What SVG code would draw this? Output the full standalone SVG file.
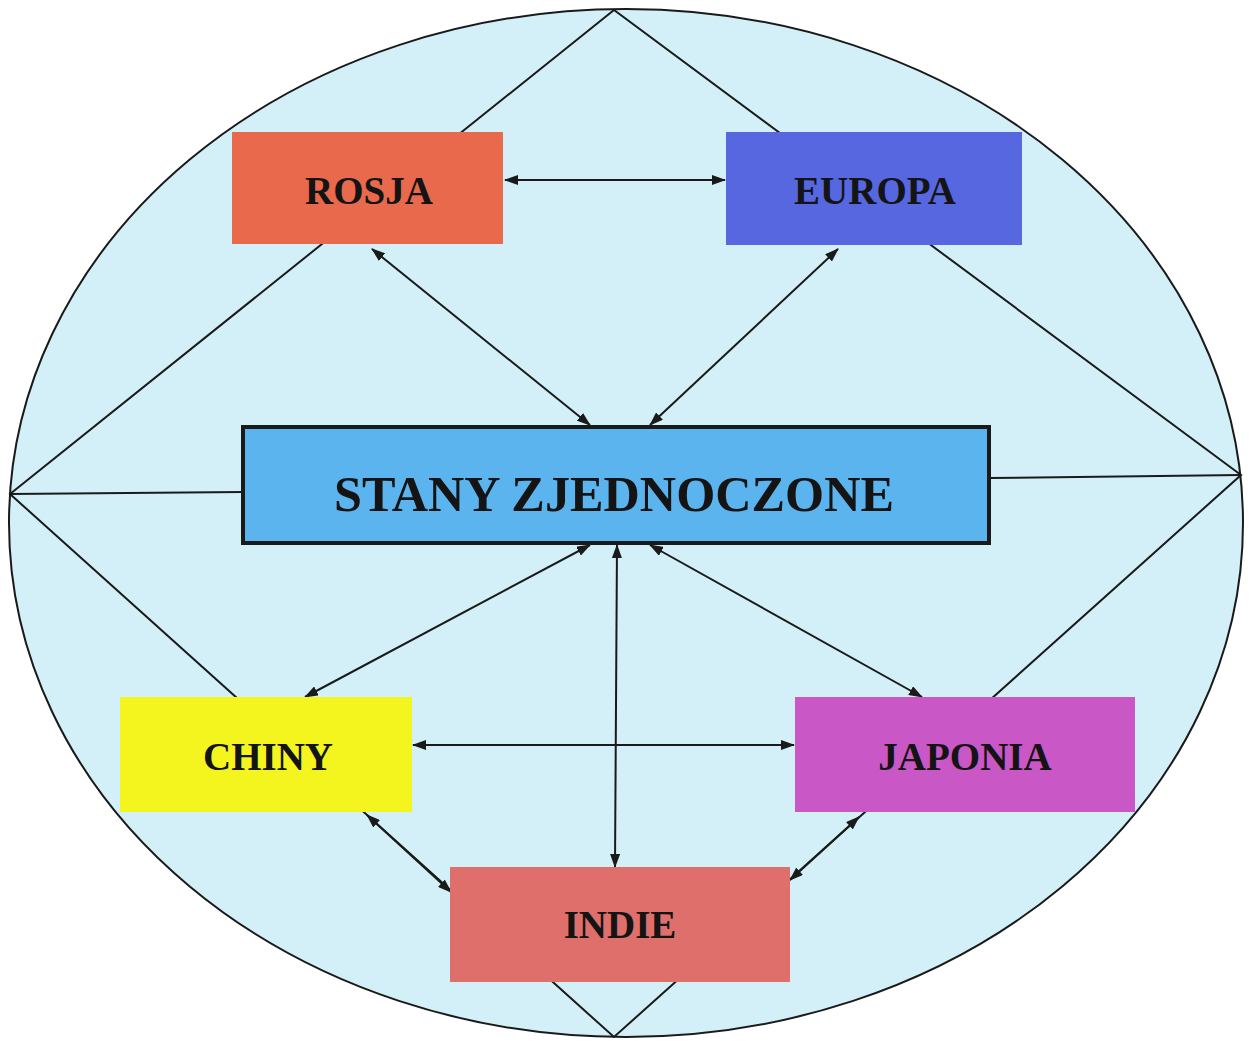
<svg xmlns="http://www.w3.org/2000/svg" width="1254" height="1041" viewBox="0 0 1254 1041">
<defs>
<marker id="ah" viewBox="0 0 14 10" refX="13" refY="5" markerWidth="14" markerHeight="10" markerUnits="userSpaceOnUse" orient="auto-start-reverse">
<path d="M0,0 L14,5 L0,10 Z" fill="#1a1a1a"/>
</marker>
<style>
.frame{fill:none;stroke:#1a1a1a;stroke-width:2}
.conn{fill:none;stroke:#1a1a1a;stroke-width:2;marker-start:url(#ah);marker-end:url(#ah)}
.lbl{font-family:"Liberation Serif","Times New Roman",serif;font-weight:bold;fill:#141414;text-anchor:middle}
.small{font-size:39px}
</style>
</defs>
<rect width="1254" height="1041" fill="#ffffff"/>
<g id="background">
<ellipse cx="626" cy="523" rx="617" ry="514" fill="#d3f0f8" stroke="#1a1a1a" stroke-width="2"/>
<path class="frame" d="M614,10 L10,494 L614,1037 L1241,475 Z"/>
<line class="frame" x1="10" y1="494" x2="243" y2="492"/>
<line class="frame" x1="989" y1="478" x2="1241" y2="475"/>
</g>
<g id="connectors">
<line class="conn" x1="505" y1="180" x2="725" y2="180"/>
<line class="conn" x1="372" y1="249" x2="590" y2="425"/>
<line class="conn" x1="838" y1="249" x2="650" y2="425"/>
<line class="conn" x1="590" y1="545" x2="305" y2="697"/>
<line class="conn" x1="650" y1="545" x2="922" y2="697"/>
<line class="conn" x1="617" y1="545" x2="615" y2="867"/>
<line class="conn" x1="413" y1="745" x2="794" y2="745"/>
<line class="conn" x1="367" y1="815" x2="451" y2="892"/>
<line class="conn" x1="859" y1="817" x2="790" y2="880"/>
</g>
<g id="rosja">
<rect x="232" y="132" width="271" height="112" fill="#e8694b"/>
<text class="lbl small" x="369" y="204">ROSJA</text>
</g>
<g id="europa">
<rect x="726" y="132" width="296" height="113" fill="#5667e0"/>
<text class="lbl small" x="875" y="204">EUROPA</text>
</g>
<g id="stany">
<rect x="243" y="427" width="746" height="116" fill="#5bb4ee" stroke="#1a1a1a" stroke-width="4"/>
<text class="lbl" x="614" y="511" font-size="51" textLength="560" lengthAdjust="spacingAndGlyphs">STANY ZJEDNOCZONE</text>
</g>
<g id="chiny">
<rect x="120" y="697" width="292" height="115" fill="#f4f41f"/>
<text class="lbl small" x="268" y="770">CHINY</text>
</g>
<g id="japonia">
<rect x="795" y="697" width="340" height="115" fill="#c957c6"/>
<text class="lbl small" x="965" y="770">JAPONIA</text>
</g>
<g id="indie">
<rect x="450" y="867" width="340" height="115" fill="#de6f6b"/>
<text class="lbl small" x="620" y="938">INDIE</text>
</g>
</svg>
